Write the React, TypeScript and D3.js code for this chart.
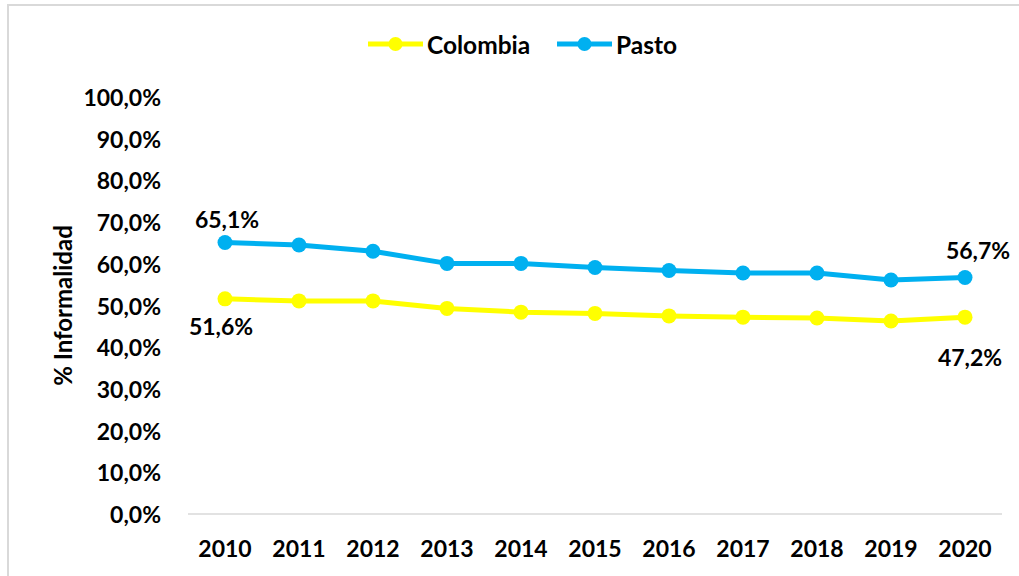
import React, { useRef, useEffect } from 'react';
import * as d3 from 'd3';

const years = ['2010', '2011', '2012', '2013', '2014', '2015', '2016', '2017', '2018', '2019', '2020'];
const colombia = [51.6, 51.1, 51.1, 49.3, 48.4, 48.1, 47.5, 47.2, 47.0, 46.3, 47.2];
const pasto = [65.1, 64.5, 63.0, 60.1, 60.1, 59.1, 58.4, 57.8, 57.8, 56.1, 56.7];
const yTicks = [0, 10, 20, 30, 40, 50, 60, 70, 80, 90, 100];

const COL_YELLOW = '#FFFF00';
const COL_BLUE = '#00B0F0';
const FONT = 'Lato, "Open Sans", sans-serif';
const FS = '23px';

const fmt = (v: number) => v.toFixed(1).replace('.', ',') + '%';

export default function App() {
  const svgRef = useRef<SVGSVGElement>(null);

  useEffect(() => {
    document.body.style.margin = '0';
    if (!svgRef.current) return;
    const svg = d3.select(svgRef.current);
    svg.selectAll('*').remove();

    const width = 1019;
    const height = 576;
    const plot = { left: 188, right: 1002, top: 97, bottom: 514 };

    // outer frame (only top/left edges visible in the crop)
    svg.append('rect')
      .attr('x', 8).attr('y', 5)
      .attr('width', width + 20).attr('height', height + 20)
      .attr('fill', 'white')
      .attr('stroke', '#d9d9d9')
      .attr('stroke-width', 2);

    const x = d3.scaleBand<string>().domain(years).range([plot.left, plot.right]);
    const y = d3.scaleLinear().domain([0, 100]).range([plot.bottom, plot.top]);
    const cx = (d: string) => (x(d) as number) + x.bandwidth() / 2;

    const txt = (sel: any, size: string = FS) => sel
      .attr('font-family', FONT)
      .attr('font-weight', 'bold')
      .attr('font-size', size)
      .attr('fill', '#000');

    // y tick labels
    svg.append('g').selectAll('text')
      .data(yTicks)
      .join('text')
      .attr('x', 161)
      .attr('y', d => y(d))
      .attr('text-anchor', 'end')
      .attr('dominant-baseline', 'central')
      .call(txt)
      .text(d => fmt(d));

    // x axis line
    svg.append('line')
      .attr('x1', plot.left).attr('x2', plot.right)
      .attr('y1', plot.bottom).attr('y2', plot.bottom)
      .attr('stroke', '#d9d9d9')
      .attr('stroke-width', 1.5);

    // x labels
    svg.append('g').selectAll('text')
      .data(years)
      .join('text')
      .attr('x', d => cx(d))
      .attr('y', 548)
      .attr('text-anchor', 'middle')
      .attr('dominant-baseline', 'central')
      .call(txt)
      .text(d => d);

    // y axis title
    svg.append('text')
      .attr('transform', `translate(62, ${(plot.top + plot.bottom) / 2}) rotate(-90)`)
      .attr('text-anchor', 'middle')
      .attr('dominant-baseline', 'central')
      .call(txt, '24px')
      .text('% Informalidad');

    const series = [
      { name: 'Colombia', values: colombia, color: COL_YELLOW },
      { name: 'Pasto', values: pasto, color: COL_BLUE },
    ];

    const line = d3.line<number>()
      .x((_, i) => cx(years[i]))
      .y(d => y(d));

    series.forEach(s => {
      svg.append('path')
        .datum(s.values)
        .attr('d', line)
        .attr('fill', 'none')
        .attr('stroke', s.color)
        .attr('stroke-width', 5)
        .attr('stroke-linejoin', 'round');
      svg.append('g').selectAll('circle')
        .data(s.values)
        .join('circle')
        .attr('cx', (_, i) => cx(years[i]))
        .attr('cy', d => y(d))
        .attr('r', 7.5)
        .attr('fill', s.color);
    });

    // data labels (first and last points)
    const labels = [
      { i: 0, v: pasto[0], dy: -24, dx: 2 },
      { i: 10, v: pasto[10], dy: -28, dx: 13 },
      { i: 0, v: colombia[0], dy: 27, dx: -4 },
      { i: 10, v: colombia[10], dy: 40, dx: 5 },
    ];
    svg.append('g').selectAll('text')
      .data(labels)
      .join('text')
      .attr('x', d => cx(years[d.i]) + d.dx)
      .attr('y', d => y(d.v) + d.dy)
      .attr('text-anchor', 'middle')
      .attr('dominant-baseline', 'central')
      .call(txt)
      .text(d => fmt(d.v));

    // legend
    const legend = [
      { name: 'Colombia', color: COL_YELLOW, x: 368 },
      { name: 'Pasto', color: COL_BLUE, x: 557 },
    ];
    legend.forEach(l => {
      const g = svg.append('g').attr('transform', `translate(${l.x}, 44)`);
      g.append('line')
        .attr('x1', 0).attr('x2', 55)
        .attr('stroke', l.color).attr('stroke-width', 5);
      g.append('circle').attr('cx', 27.5).attr('r', 7).attr('fill', l.color);
      g.append('text')
        .attr('x', 59)
        .attr('dominant-baseline', 'central')
        .call(txt, '24.5px')
        .text(l.name);
    });
  }, []);

  return <svg ref={svgRef} width={1019} height={576} style={{ display: 'block' }}></svg>;
}
